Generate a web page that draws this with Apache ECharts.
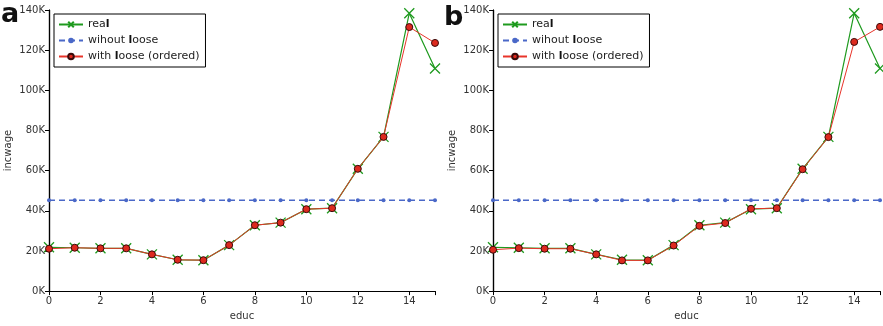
<!DOCTYPE html>
<html>
<head>
<meta charset="utf-8">
<script src="https://cdn.jsdelivr.net/npm/echarts@6/dist/echarts.min.js"></script>
<style>
  html, body { margin: 0; padding: 0; background: #fff; }
  #chart { width: 883px; height: 326px; }
</style>
</head>
<body>
<div id="chart"></div>
<script>
// education levels (x axis)
const educ = [0, 1, 2, 3, 4, 5, 6, 7, 8, 9, 10, 11, 12, 13, 14, 15];

// panel a
const realA = [21800, 21600, 21300, 21300, 18300, 15600, 15400, 22900, 32800, 34100, 40800, 41300, 60900, 76800, 138400, 110900];
const withoutLooseA = [45300, 45300, 45300, 45300, 45300, 45300, 45300, 45300, 45300, 45300, 45300, 45300, 45300, 45300, 45300, 45300];
const withLooseA = [21100, 21600, 21300, 21300, 18300, 15600, 15400, 22900, 32800, 34100, 40800, 41300, 60900, 76800, 131500, 123600];

// panel b
const realB = [21800, 21600, 21300, 21300, 18300, 15600, 15400, 22900, 32800, 34100, 40800, 41300, 60900, 76800, 138400, 110900];
const withoutLooseB = [45300, 45300, 45300, 45300, 45300, 45300, 45300, 45300, 45300, 45300, 45300, 45300, 45300, 45300, 45300, 45300];
const withLooseB = [20600, 21400, 21100, 21100, 18300, 15300, 15300, 22700, 32500, 33900, 41000, 41300, 60700, 76700, 124100, 131600];

const seriesNames = ["real", "wihout loose", "with loose (ordered)"];
const panelLetters = ["a", "b"];

const FONT = "DejaVu Sans";
const GREEN = "#1e9a1e";
const BLUE = "#4a68c8";
const RED = "#e8342a";
const CROSS = "path://M0,0L10,10M10,0L0,10";

const chart = echarts.init(document.getElementById("chart"), null, { renderer: "canvas" });

const grids = [
  { left: 49, top: 10, width: 386, height: 285 },
  { left: 493, top: 10, width: 387, height: 285 },
];
const letterPos = [{ left: 1, top: 1 }, { left: 444, top: 4 }];

const xAxes = [];
const yAxes = [];
const series = [];
const legends = [];
const graphics = [];

const pairs = [
  [realA, withoutLooseA, withLooseA],
  [realB, withoutLooseB, withLooseB],
];

grids.forEach((g, i) => {
  // bottom axis with labels
  xAxes.push({
    gridIndex: i, type: "value", min: 0, max: 15, interval: 2,
    name: "educ", nameLocation: "middle", nameGap: 19,
    nameTextStyle: { fontFamily: FONT, fontSize: 10, color: "#333" },
    axisLine: { lineStyle: { color: "#000", width: 1.2 } },
    axisTick: { inside: false, length: 3, lineStyle: { color: "#000" } },
    axisLabel: { fontFamily: FONT, fontSize: 10, color: "#333", margin: 5, showMaxLabel: false },
    splitLine: { show: false },
  });
  // top mirror axis
  xAxes.push({
    gridIndex: i, type: "value", position: "top", min: 0, max: 15, interval: 2,
    axisLine: { lineStyle: { color: "#000", width: 1.2 } },
    axisTick: { inside: true, length: 4, lineStyle: { color: "#000" } },
    axisLabel: { show: false },
    splitLine: { show: false },
  });
  yAxes.push({
    gridIndex: i, type: "value", min: 0, max: 140000, interval: 20000,
    name: "incwage", nameLocation: "middle", nameGap: 36, nameRotate: 90,
    nameTextStyle: { fontFamily: FONT, fontSize: 10, color: "#333" },
    axisLine: { show: true, lineStyle: { color: "#000", width: 1.2 } },
    axisTick: { show: true, inside: false, length: 3, lineStyle: { color: "#000" } },
    axisLabel: { fontFamily: FONT, fontSize: 10, color: "#333", margin: 4,
      formatter: v => (v / 1000) + "K" },
    splitLine: { show: false },
  });
  yAxes.push({
    gridIndex: i, type: "value", position: "right", min: 0, max: 140000, interval: 20000,
    axisLine: { show: true, lineStyle: { color: "#000", width: 1.2 } },
    axisTick: { show: true, inside: true, length: 4, lineStyle: { color: "#000" } },
    axisLabel: { show: false },
    splitLine: { show: false },
  });

  const [real, without, withL] = pairs[i];
  const xi = i * 2, yi = i * 2;
  series.push({
    name: seriesNames[0], type: "line", xAxisIndex: xi, yAxisIndex: yi,
    data: educ.map((x, k) => [x, real[k]]),
    symbol: CROSS, symbolSize: 10, z: 2,
    lineStyle: { color: GREEN, width: 1.2 },
    itemStyle: { color: "rgba(0,0,0,0)", borderColor: GREEN, borderWidth: 1.3 },
  });
  series.push({
    name: seriesNames[1], type: "line", xAxisIndex: xi, yAxisIndex: yi,
    data: educ.map((x, k) => [x, without[k]]),
    symbol: "circle", symbolSize: 4, z: 3,
    lineStyle: { color: BLUE, width: 1.5, type: [6, 4] },
    itemStyle: { color: BLUE, borderWidth: 0 },
  });
  series.push({
    name: seriesNames[2], type: "line", xAxisIndex: xi, yAxisIndex: yi,
    data: educ.map((x, k) => [x, withL[k]]),
    symbol: "circle", symbolSize: 7, z: 4,
    lineStyle: { color: RED, width: 1 },
    itemStyle: { color: "#dd2a1e", borderColor: "#3a0a0a", borderWidth: 1 },
  });

  legends.push({
    orient: "vertical", left: g.left + 5, top: 14,
    backgroundColor: "#fff", borderColor: "#000", borderWidth: 1, borderRadius: 0,
    padding: [5, 6, 5, 4], itemGap: 5, itemWidth: 24, itemHeight: 7,
    selectedMode: false,
    textStyle: {
      fontFamily: FONT, fontSize: 11, color: "#222", lineHeight: 11,
      rich: { b: { fontFamily: FONT, fontSize: 11, fontWeight: "bold", color: "#111", lineHeight: 11 } },
    },
    formatter: name => name.replace(/l(?=oose|$)/, "{b|l}"),
    data: seriesNames,
  });

  graphics.push({
    type: "text", left: letterPos[i].left, top: letterPos[i].top,
    style: { text: panelLetters[i], font: "bold 27px " + FONT, fill: "#111" },
  });
});

chart.setOption({
  animation: false,
  backgroundColor: "#fff",
  grid: grids,
  xAxis: xAxes,
  yAxis: yAxes,
  legend: legends,
  series: series,
  graphic: graphics,
});
</script>
</body>
</html>
